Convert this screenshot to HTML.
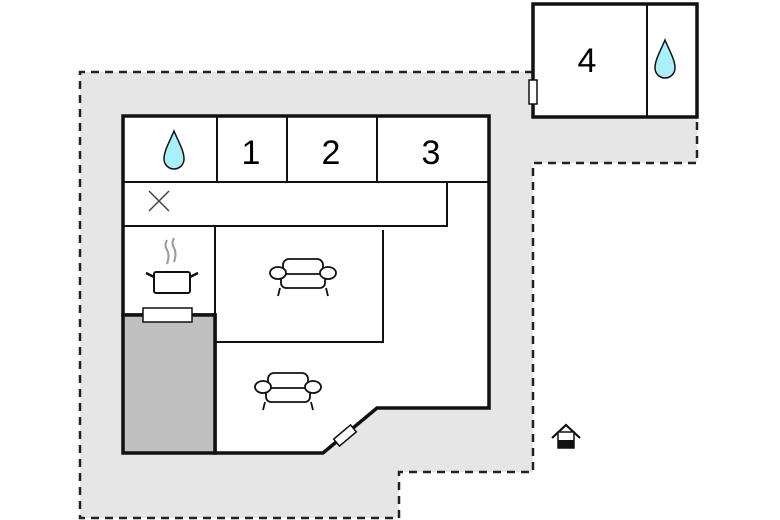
<!DOCTYPE html>
<html><head><style>body{margin:0;background:#fff}svg{display:block}</style></head>
<body>
<svg width="780" height="520" viewBox="0 0 780 520" xmlns="http://www.w3.org/2000/svg" font-family="Liberation Sans, sans-serif">
<!-- grey terrain -->
<polygon points="80,72 533,72 533,117 697,117 697,163 533,163 533,472 399,472 399,518 80,518" fill="#e6e6e6"/>
<polyline points="533,72 80,72 80,518 399,518 399,472 533,472 533,163 697,163 697,117" fill="none" stroke="#222" stroke-width="2.5" stroke-dasharray="8,6"/>
<!-- building 4 -->
<rect x="533" y="4" width="164" height="113" fill="#fff" stroke="#111" stroke-width="3.5"/>
<line x1="647" y1="4" x2="647" y2="117" stroke="#111" stroke-width="2"/>
<rect x="529" y="80" width="8" height="24" fill="#fff" stroke="#111" stroke-width="1.5"/>
<text x="587" y="72" font-size="34" text-anchor="middle">4</text>
<path d="M665,40 C660,52 655,60 655,68 A10,10 0 0 0 675,68 C675,60 670,52 665,40 Z" fill="#aaf0f8" stroke="#111" stroke-width="1.5"/>
<!-- main building -->
<polygon points="123,116 489,116 489,408 377,408 323,453 215,453 215,315 123,315" fill="#fff" stroke="#111" stroke-width="3.5"/>
<rect x="123" y="315" width="92" height="138" fill="#c0c0c0" stroke="#111" stroke-width="3.5"/>
<g stroke="#111" stroke-width="2" fill="none">
<line x1="123" y1="182" x2="489" y2="182"/>
<line x1="217" y1="116" x2="217" y2="182"/>
<line x1="287" y1="116" x2="287" y2="182"/>
<line x1="377" y1="116" x2="377" y2="182"/>
<polyline points="447,182 447,226 123,226"/>
<line x1="215" y1="226" x2="215" y2="315"/>
<polyline points="215,342 383,342 383,230"/>
</g>
<path d="M174,131 C169,143 164,151 164,159 A10,10 0 0 0 184,159 C184,151 179,143 174,131 Z" fill="#aaf0f8" stroke="#111" stroke-width="1.5"/>
<text x="251" y="164" font-size="34" text-anchor="middle">1</text>
<text x="331" y="164" font-size="34" text-anchor="middle">2</text>
<text x="431" y="164" font-size="34" text-anchor="middle">3</text>
<g stroke="#444" stroke-width="1.5"><line x1="149" y1="191" x2="169" y2="211"/><line x1="169" y1="191" x2="149" y2="211"/></g>
<!-- kitchen pot -->
<g stroke="#999" stroke-width="2" fill="none"><path d="M167,240 q-3,5 0,10 q3,5 0,14"/><path d="M174,238 q-3,5 0,10 q3,5 0,14"/></g>
<rect x="154" y="272" width="36" height="21" rx="2" fill="#fff" stroke="#111" stroke-width="2"/>
<g stroke="#111" stroke-width="2.5"><line x1="154" y1="277" x2="146" y2="273"/><line x1="190" y1="277" x2="198" y2="273"/></g>
<rect x="143" y="308" width="49" height="14" fill="#fff" stroke="#111" stroke-width="1.5"/>
<!-- sofas -->
<g id="sofa" fill="#fff" stroke="#111" stroke-width="1.8">
<line x1="280" y1="288" x2="278" y2="296"/><line x1="326" y1="288" x2="328" y2="296"/>
<rect x="283" y="259" width="40" height="16" rx="6"/>
<rect x="281" y="274" width="44" height="14" rx="5"/>
<ellipse cx="278" cy="273" rx="8" ry="6"/><ellipse cx="328" cy="273" rx="8" ry="6"/>
</g>
<use href="#sofa" transform="translate(-15,114)"/>
<!-- diagonal door -->
<rect x="334" y="431" width="22" height="9" fill="#fff" stroke="#111" stroke-width="1.5" transform="rotate(-40 345 435.5)"/>
<!-- entrance icon -->
<polyline points="552,438 566,425 580,438" fill="none" stroke="#111" stroke-width="2.2"/>
<rect x="558" y="432" width="16" height="16" fill="#fff" stroke="#111" stroke-width="1.5"/>
<rect x="558" y="440" width="16" height="8" fill="#111"/>
</svg>
</body></html>
